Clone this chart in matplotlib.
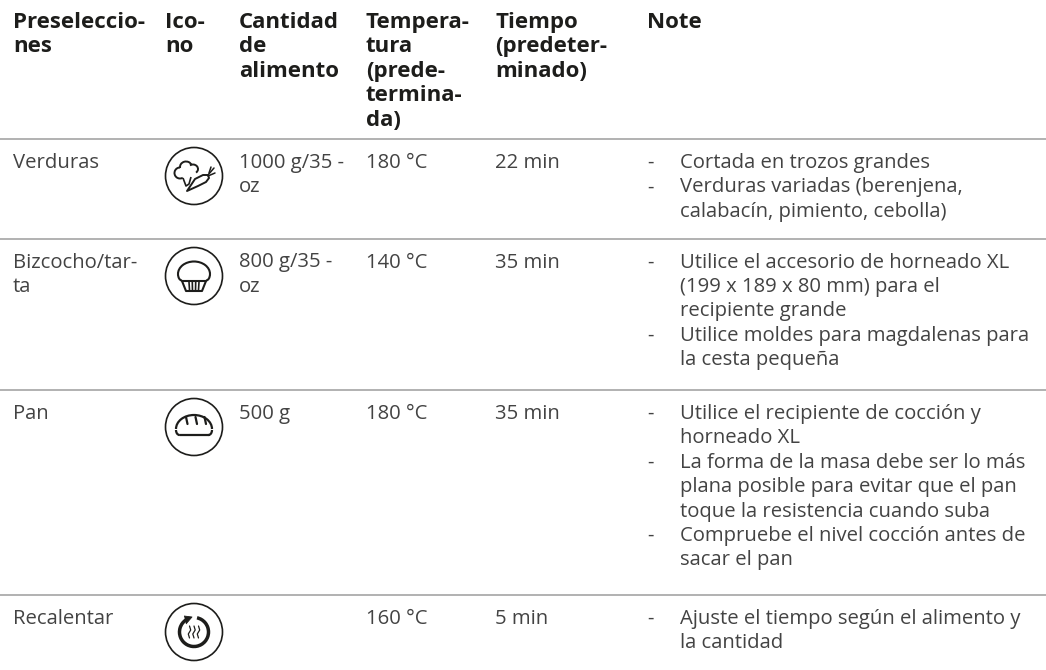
import matplotlib
matplotlib.use("Agg")
import matplotlib.pyplot as plt
from matplotlib.patches import Circle, Arc, Polygon

plt.rcParams['font.family'] = ['Open Sans', 'DejaVu Sans']

headers = [["Preseleccio-", "nes"], ["Ico-", "no"], ["Cantidad", "de", "alimento"],
           ["Tempera-", "tura", "(prede-", "termina-", "da)"], ["Tiempo", "(predeter-", "minado)"], ["Note"]]
presets = [["Verduras"], ["Bizcocho/tar-", "ta"], ["Pan"], ["Recalentar"]]
amounts = [["1000 g/35 -", "oz"], ["800 g/35 -", "oz"], ["500 g"], []]
temps = ["180 °C", "140 °C", "180 °C", "160 °C"]
times = ["22 min", "35 min", "35 min", "5 min"]
notes = [
    [["Cortada en trozos grandes"], ["Verduras variadas (berenjena,", "calabacín, pimiento, cebolla)"]],
    [["Utilice el accesorio de horneado XL", "(199 x 189 x 80 mm) para el", "recipiente grande"],
     ["Utilice moldes para magdalenas para", "la cesta pequeña"]],
    [["Utilice el recipiente de cocción y", "horneado XL"],
     ["La forma de la masa debe ser lo más", "plana posible para evitar que el pan", "toque la resistencia cuando suba"],
     ["Compruebe el nivel cocción antes de", "sacar el pan"]],
    [["Ajuste el tiempo según el alimento y", "la cantidad"]],
]

COLX = [13, 165, 239, 366, 495, 647]
NOTE_X = 680
PITCH = 24.4
RULES = [139, 238.5, 390, 595]
ICON_Y = [176, 276, 427, 632]
ICON_X = 194
BODY = '#434343'
DARK = '#1d1d1b'
INK = '#1d1d1b'
FS = 14.6
FS_HEAD = 16

fig = plt.figure(figsize=(10.46, 6.70), dpi=100)
ax = fig.add_axes([0, 0, 1, 1])
ax.set_xlim(0, 1046)
ax.set_ylim(670, 0)
ax.axis('off')


def lines(x, y, rows, **kw):
    for i, t in enumerate(rows):
        ax.text(x, y + i * PITCH, t, va='baseline', ha='left', **kw)


for x, h in zip(COLX, headers):
    lines(x, 28, h, fontsize=FS_HEAD, fontweight='bold', color=DARK)

for y in RULES:
    ax.plot([0, 1046], [y, y], color='#ababab', lw=1.3, solid_capstyle='butt')

for r, top in enumerate(RULES):
    base = top + 29
    body = dict(fontsize=FS, color=BODY)
    lines(COLX[0], base, presets[r], **body)
    lines(COLX[2], base, amounts[r], **body)
    lines(COLX[3], base, [temps[r]], **body)
    lines(COLX[4], base, [times[r]], **body)
    k = 0
    for item in notes[r]:
        ax.text(COLX[5], base + k * PITCH, "-", va='baseline', **body)
        lines(NOTE_X, base + k * PITCH, item, **body)
        k += len(item)

for y in ICON_Y:
    ax.add_patch(Circle((ICON_X, y), 28.5, fill=False, ec=INK, lw=1.2))


def P(pts, cy, closed=False, lw=1.4, fc='none'):
    ax.add_patch(Polygon([(ICON_X + a, cy + b) for a, b in pts], closed=closed, fc=fc, ec=INK, lw=lw, joinstyle='round'))


def A(dx, dy, w, h, t1, t2, cy, lw=1.4):
    ax.add_patch(Arc((ICON_X + dx, cy + dy), w, h, theta1=t1, theta2=t2, ec=INK, lw=lw))


def L(xs, ys, cy, lw=1.4):
    ax.plot([ICON_X + v for v in xs], [cy + v for v in ys], color=INK, lw=lw, solid_capstyle='round')


# vegetables
cy = ICON_Y[0]
A(-14, -3, 11, 11, 60, 270, cy)
A(-8, -9, 12, 11, 170, 340, cy)
A(-1, -7, 10, 9, 230, 50, cy)
P([(-11, 2), (-8, 10), (-5, 8), (-3, 1)], cy, lw=1.2)
P([(-7, 15), (1, 3), (9, -1), (14, -1), (15, 2), (12, 6), (4, 10)], cy, closed=True)
L([14, 20], [-1, -8], cy, 1.1)
L([14, 21], [0, -3], cy, 1.1)
L([15, 17], [-3, -9], cy, 1.1)

# muffin
cy = ICON_Y[1]
A(0, -2, 32, 25, 180, 360, cy, 1.5)
A(-12, -2, 8, 13, 90, 180, cy, 1.5)
A(12, -2, 8, 13, 0, 90, cy, 1.5)
L([-12, 12], [4.5, 4.5], cy, 1.5)
P([(-12, 5), (-8, 15), (8, 15), (12, 5)], cy, lw=1.5)
for dx in (-5, -1.7, 1.7, 5):
    L([dx, dx * 0.9], [6, 14], cy, 1.2)

# bread
cy = ICON_Y[2]
A(0, 2, 36, 28, 180, 360, cy, 1.6)
A(-14.5, 3, 7, 10, 90, 180, cy, 1.6)
A(14.5, 3, 7, 10, 0, 90, cy, 1.6)
L([-14.5, 14.5], [8, 8], cy, 1.6)
for dx in (-8, 1.5, 10.5):
    L([dx, dx + 1.5], [-10, -3], cy, 1.6)

# reheat
cy = ICON_Y[3]
A(0, 0, 29, 29, -78, 236, cy, 2.5)
P([(-10, -16), (-2, -15), (-8, -8)], cy, fc=INK, lw=0.6)
for dx in (-4.5, 0, 4.5):
    L([dx + s for s in (0, 1.2, -1.2, 0)], [-6, -2, 2, 6], cy, 0.9)

fig.savefig('out.png', dpi=100)
